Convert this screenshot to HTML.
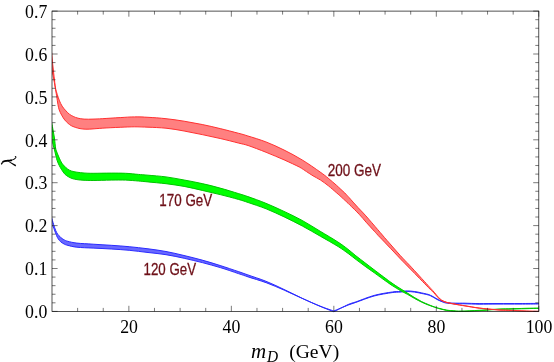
<!DOCTYPE html>
<html><head><meta charset="utf-8"><title>plot</title>
<style>html,body{margin:0;padding:0;background:#fff;}body{width:554px;height:362px;overflow:hidden;font-family:"Liberation Sans",sans-serif;}</style>
</head><body>
<svg width="554" height="362" viewBox="0 0 554 362" style="display:block;will-change:transform">
<rect width="554" height="362" fill="#fff"/>
<defs><clipPath id="c"><rect x="52.0" y="9.1" width="486.8" height="303.3"/></clipPath></defs>
<g clip-path="url(#c)" stroke-linejoin="round">
<path d="M51.6 217.7C51.9 218.8 52.9 222.0 53.5 224.2C54.2 226.3 55.0 228.8 55.7 230.5C56.4 232.1 56.9 233.0 57.7 234.2C58.5 235.3 59.4 236.3 60.5 237.2C61.5 238.2 62.7 239.0 63.9 239.7C65.1 240.3 65.7 240.7 67.8 241.3C70.0 241.9 72.7 242.6 76.9 243.1C81.1 243.6 87.4 243.8 93.1 244.2C98.8 244.6 105.2 244.9 111.2 245.3C117.2 245.7 123.0 246.1 129.2 246.7C135.3 247.3 141.8 248.0 148.0 248.8C154.1 249.6 160.0 250.4 166.0 251.5C172.0 252.6 178.0 254.1 184.0 255.5C190.1 257.0 196.1 258.4 202.1 260.1C208.1 261.7 214.1 263.6 220.1 265.5C226.1 267.4 233.6 270.0 238.2 271.5C242.8 273.1 243.3 273.3 247.9 274.9C252.5 276.6 259.8 278.8 265.8 281.2C271.8 283.6 277.9 286.5 283.9 289.4C289.9 292.2 296.0 295.3 302.0 298.2C308.0 301.0 314.7 304.0 320.0 306.3C325.3 308.5 331.5 310.9 333.8 311.8C336.2 310.6 344.5 306.2 348.2 304.5C351.9 302.9 351.8 303.3 356.2 301.8C360.5 300.3 368.2 297.0 374.2 295.4C380.2 293.8 388.0 292.6 392.3 292.0C396.6 291.3 397.5 291.7 400.0 291.5C402.5 291.3 404.8 290.9 407.2 290.9C409.6 290.9 411.9 291.2 414.3 291.5C416.7 291.8 419.3 292.4 421.6 292.9C423.9 293.4 426.4 293.9 427.9 294.3C429.4 294.7 429.7 294.9 430.6 295.4C431.5 295.8 432.3 296.2 433.3 296.7C434.2 297.3 435.1 297.9 436.1 298.4C437.0 299.0 437.9 299.4 438.8 299.9C439.7 300.3 440.7 300.7 441.6 301.1C442.6 301.4 443.5 301.8 444.5 302.1C445.4 302.3 446.3 302.4 447.2 302.6C448.2 302.7 449.1 302.8 450.1 302.9C451.0 303.0 451.6 303.0 452.9 303.1C454.2 303.1 456.0 303.2 458.0 303.2C460.0 303.2 461.5 303.1 465.0 303.2C468.5 303.3 473.7 303.5 479.2 303.6C484.7 303.6 491.2 303.5 498.0 303.5C504.8 303.5 513.2 303.5 520.0 303.5C526.8 303.5 535.5 303.4 538.8 303.4C542.1 303.4 539.8 303.4 540.0 303.4L540.0 304.0C539.8 304.0 542.1 304.0 538.8 304.0C535.5 304.0 526.8 304.1 520.0 304.1C513.2 304.1 504.8 304.1 498.0 304.1C491.2 304.1 484.7 304.2 479.2 304.2C473.7 304.1 468.5 303.9 465.0 303.8C461.5 303.7 460.0 303.8 458.0 303.8C456.0 303.8 454.2 303.7 452.9 303.7C451.6 303.6 451.1 303.6 450.1 303.5C449.2 303.4 448.3 303.3 447.4 303.2C446.5 303.1 445.6 303.0 444.7 302.7C443.8 302.5 442.9 302.1 442.0 301.7C441.1 301.4 440.1 301.0 439.2 300.5C438.3 300.1 437.5 299.7 436.5 299.2C435.6 298.7 434.7 298.0 433.7 297.5C432.8 297.0 431.9 296.5 431.0 296.0C430.1 295.6 429.7 295.4 428.1 294.9C426.6 294.5 424.1 294.0 421.8 293.5C419.5 293.0 416.9 292.4 414.5 292.1C412.0 291.8 409.6 291.5 407.2 291.5C404.8 291.5 402.5 291.9 400.0 292.1C397.5 292.3 396.5 292.0 392.1 292.6C387.8 293.3 380.0 294.4 374.0 296.0C367.9 297.7 360.2 300.9 355.8 302.4C351.5 304.0 351.5 303.8 347.8 305.2C344.1 306.7 336.1 310.0 333.8 311.0C331.5 310.2 325.6 308.3 320.4 306.2C315.2 304.2 308.4 301.2 302.4 298.5C296.4 295.9 290.3 292.9 284.3 290.2C278.3 287.6 272.2 284.9 266.2 282.7C260.1 280.5 252.7 278.4 248.1 276.9C243.5 275.3 243.0 275.1 238.4 273.6C233.8 272.0 226.3 269.4 220.3 267.6C214.3 265.8 208.3 264.2 202.3 262.6C196.2 261.1 190.2 259.6 184.2 258.3C178.1 256.9 172.1 255.7 166.0 254.7C160.0 253.7 154.2 253.2 148.0 252.5C141.9 251.8 135.4 250.9 129.2 250.3C123.1 249.7 117.2 249.4 111.2 249.0C105.2 248.6 98.8 248.4 93.1 248.1C87.4 247.8 81.1 247.7 76.9 247.2C72.7 246.8 70.1 245.9 67.9 245.4C65.8 244.9 65.3 244.6 64.1 244.0C62.9 243.4 61.7 242.7 60.7 241.8C59.8 241.0 58.9 239.9 58.2 238.8C57.5 237.8 57.1 237.0 56.5 235.5C55.8 234.0 55.1 231.6 54.4 229.8C53.7 228.1 52.7 225.6 52.3 224.8Z" fill="#6868ff" stroke="none"/><path d="M51.6 217.7C51.9 218.8 52.9 222.0 53.5 224.2C54.2 226.3 55.0 228.8 55.7 230.5C56.4 232.1 56.9 233.0 57.7 234.2C58.5 235.3 59.4 236.3 60.5 237.2C61.5 238.2 62.7 239.0 63.9 239.7C65.1 240.3 65.7 240.7 67.8 241.3C70.0 241.9 72.7 242.6 76.9 243.1C81.1 243.6 87.4 243.8 93.1 244.2C98.8 244.6 105.2 244.9 111.2 245.3C117.2 245.7 123.0 246.1 129.2 246.7C135.3 247.3 141.8 248.0 148.0 248.8C154.1 249.6 160.0 250.4 166.0 251.5C172.0 252.6 178.0 254.1 184.0 255.5C190.1 257.0 196.1 258.4 202.1 260.1C208.1 261.7 214.1 263.6 220.1 265.5C226.1 267.4 233.6 270.0 238.2 271.5C242.8 273.1 243.3 273.3 247.9 274.9C252.5 276.6 259.8 278.8 265.8 281.2C271.8 283.6 277.9 286.5 283.9 289.4C289.9 292.2 296.0 295.3 302.0 298.2C308.0 301.0 314.7 304.0 320.0 306.3C325.3 308.5 331.5 310.9 333.8 311.8C336.2 310.6 344.5 306.2 348.2 304.5C351.9 302.9 351.8 303.3 356.2 301.8C360.5 300.3 368.2 297.0 374.2 295.4C380.2 293.8 388.0 292.6 392.3 292.0C396.6 291.3 397.5 291.7 400.0 291.5C402.5 291.3 404.8 290.9 407.2 290.9C409.6 290.9 411.9 291.2 414.3 291.5C416.7 291.8 419.3 292.4 421.6 292.9C423.9 293.4 426.4 293.9 427.9 294.3C429.4 294.7 429.7 294.9 430.6 295.4C431.5 295.8 432.3 296.2 433.3 296.7C434.2 297.3 435.1 297.9 436.1 298.4C437.0 299.0 437.9 299.4 438.8 299.9C439.7 300.3 440.7 300.7 441.6 301.1C442.6 301.4 443.5 301.8 444.5 302.1C445.4 302.3 446.3 302.4 447.2 302.6C448.2 302.7 449.1 302.8 450.1 302.9C451.0 303.0 451.6 303.0 452.9 303.1C454.2 303.1 456.0 303.2 458.0 303.2C460.0 303.2 461.5 303.1 465.0 303.2C468.5 303.3 473.7 303.5 479.2 303.6C484.7 303.6 491.2 303.5 498.0 303.5C504.8 303.5 513.2 303.5 520.0 303.5C526.8 303.5 535.5 303.4 538.8 303.4C542.1 303.4 539.8 303.4 540.0 303.4" fill="none" stroke="#2a2aff" stroke-width="1.0"/><path d="M52.3 224.8C52.7 225.6 53.7 228.1 54.4 229.8C55.1 231.6 55.8 234.0 56.5 235.5C57.1 237.0 57.5 237.8 58.2 238.8C58.9 239.9 59.8 241.0 60.7 241.8C61.7 242.7 62.9 243.4 64.1 244.0C65.3 244.6 65.8 244.9 67.9 245.4C70.1 245.9 72.7 246.8 76.9 247.2C81.1 247.7 87.4 247.8 93.1 248.1C98.8 248.4 105.2 248.6 111.2 249.0C117.2 249.4 123.1 249.7 129.2 250.3C135.4 250.9 141.9 251.8 148.0 252.5C154.2 253.2 160.0 253.7 166.0 254.7C172.1 255.7 178.1 256.9 184.2 258.3C190.2 259.6 196.2 261.1 202.3 262.6C208.3 264.2 214.3 265.8 220.3 267.6C226.3 269.4 233.8 272.0 238.4 273.6C243.0 275.1 243.5 275.3 248.1 276.9C252.7 278.4 260.1 280.5 266.2 282.7C272.2 284.9 278.3 287.6 284.3 290.2C290.3 292.9 296.4 295.9 302.4 298.5C308.4 301.2 315.2 304.2 320.4 306.2C325.6 308.3 331.5 310.2 333.8 311.0C336.1 310.0 344.1 306.7 347.8 305.2C351.5 303.8 351.5 304.0 355.8 302.4C360.2 300.9 367.9 297.7 374.0 296.0C380.0 294.4 387.8 293.3 392.1 292.6C396.5 292.0 397.5 292.3 400.0 292.1C402.5 291.9 404.8 291.5 407.2 291.5C409.6 291.5 412.0 291.8 414.5 292.1C416.9 292.4 419.5 293.0 421.8 293.5C424.1 294.0 426.6 294.5 428.1 294.9C429.7 295.4 430.1 295.6 431.0 296.0C431.9 296.5 432.8 297.0 433.7 297.5C434.7 298.0 435.6 298.7 436.5 299.2C437.5 299.7 438.3 300.1 439.2 300.5C440.1 301.0 441.1 301.4 442.0 301.7C442.9 302.1 443.8 302.5 444.7 302.7C445.6 303.0 446.5 303.1 447.4 303.2C448.3 303.3 449.2 303.4 450.1 303.5C451.1 303.6 451.6 303.6 452.9 303.7C454.2 303.7 456.0 303.8 458.0 303.8C460.0 303.8 461.5 303.7 465.0 303.8C468.5 303.9 473.7 304.1 479.2 304.2C484.7 304.2 491.2 304.1 498.0 304.1C504.8 304.1 513.2 304.1 520.0 304.1C526.8 304.1 535.5 304.0 538.8 304.0C542.1 304.0 539.8 304.0 540.0 304.0" fill="none" stroke="#2a2aff" stroke-width="1.0"/>
<path d="M51.8 123.1C52.0 124.5 52.8 128.4 53.2 131.0C53.7 133.7 54.2 136.2 54.6 139.1C55.0 141.9 55.2 145.8 55.6 148.1C56.1 150.4 56.6 151.4 57.2 153.1C57.9 154.8 58.6 156.4 59.3 158.1C60.1 159.8 61.0 161.8 61.8 163.1C62.7 164.4 63.4 165.1 64.4 166.1C65.4 167.2 66.6 168.4 67.8 169.2C69.0 170.0 69.9 170.5 71.4 171.0C73.0 171.5 74.8 171.9 76.9 172.2C79.0 172.5 81.4 172.8 84.1 173.0C86.8 173.2 88.6 173.3 93.1 173.3C97.6 173.3 105.8 173.1 111.2 173.1C116.6 173.1 121.1 173.1 125.6 173.3C130.1 173.5 134.6 174.1 138.3 174.4C142.0 174.7 143.4 174.8 148.0 175.2C152.6 175.6 160.0 176.1 166.0 176.9C172.0 177.7 178.0 178.9 184.1 180.0C190.1 181.1 196.1 182.2 202.2 183.6C208.2 184.9 214.1 186.4 220.1 188.1C226.2 189.7 233.6 192.1 238.2 193.5C242.9 194.9 243.3 195.0 247.9 196.6C252.5 198.2 259.9 200.8 265.9 203.3C271.9 205.8 278.0 208.5 284.0 211.4C290.0 214.2 296.1 217.1 302.1 220.4C308.1 223.7 314.1 227.6 320.1 231.2C326.1 234.8 333.3 239.0 337.9 242.0C342.5 245.0 344.9 246.9 347.9 249.2C350.9 251.5 353.0 253.5 355.9 255.8C358.7 258.0 361.9 260.4 364.9 262.7C367.9 265.0 371.4 267.7 373.9 269.6C376.4 271.5 377.6 272.4 379.8 274.1C382.0 275.8 385.2 278.1 387.2 279.6C389.2 281.1 389.9 281.7 392.0 283.1C394.1 284.6 397.3 286.7 399.8 288.3C402.3 289.9 404.6 291.3 407.0 292.8C409.3 294.3 411.7 295.9 414.1 297.3C416.6 298.8 419.0 300.2 421.5 301.5C423.9 302.7 426.3 303.7 428.7 304.7C431.1 305.7 434.1 306.8 435.9 307.4C437.8 308.1 438.1 308.1 439.9 308.5C441.7 309.0 444.3 309.7 446.6 310.1C449.0 310.5 451.4 310.7 453.9 310.8C456.3 311.0 457.0 311.2 461.2 311.1C465.4 311.1 473.1 310.7 479.2 310.3C485.4 310.0 493.2 309.3 498.0 309.1C502.9 308.8 503.5 309.0 508.2 308.8C512.9 308.7 520.9 308.5 526.0 308.3C531.1 308.2 536.5 308.1 538.8 308.1C541.1 308.0 539.8 308.1 540.0 308.1L540.0 308.4C539.8 308.4 541.1 308.3 538.8 308.4C536.5 308.4 531.1 308.5 526.0 308.7C520.9 308.8 512.9 309.0 508.2 309.2C503.5 309.3 502.8 309.1 498.0 309.4C493.1 309.6 485.3 310.3 479.2 310.7C473.0 311.0 465.4 311.4 461.2 311.4C457.0 311.5 456.3 311.3 453.9 311.2C451.5 311.0 449.1 310.8 446.8 310.4C444.5 310.1 441.9 309.3 440.1 308.9C438.4 308.4 438.1 308.4 436.3 307.8C434.4 307.2 431.5 306.2 429.1 305.3C426.7 304.4 424.3 303.5 421.9 302.3C419.5 301.2 417.1 299.8 414.6 298.5C412.2 297.1 409.8 295.7 407.4 294.3C405.0 293.0 402.7 291.9 400.2 290.5C397.7 289.0 394.5 287.0 392.4 285.7C390.3 284.3 389.6 283.8 387.6 282.4C385.5 281.0 382.4 278.7 380.2 277.1C377.9 275.5 376.8 274.6 374.3 272.8C371.7 271.0 368.1 268.5 365.1 266.3C362.1 264.1 359.0 261.8 356.1 259.6C353.3 257.5 351.1 255.6 348.1 253.4C345.1 251.3 342.7 249.4 338.1 246.5C333.5 243.7 326.3 239.6 320.3 236.2C314.3 232.8 308.3 229.2 302.3 226.0C296.3 222.8 290.2 219.8 284.2 216.9C278.1 214.1 272.1 211.2 266.1 208.8C260.1 206.4 252.7 204.1 248.1 202.5C243.4 200.9 243.0 200.7 238.4 199.4C233.7 198.1 226.3 196.1 220.2 194.6C214.2 193.1 208.3 191.8 202.2 190.4C196.2 189.0 190.2 187.5 184.1 186.4C178.1 185.3 172.0 184.5 166.0 183.7C160.0 183.0 152.6 182.4 148.0 181.9C143.4 181.5 142.1 181.3 138.3 181.0C134.6 180.7 130.1 180.3 125.6 180.1C121.1 180.0 116.6 180.0 111.2 180.1C105.8 180.2 97.6 180.5 93.1 180.5C88.6 180.5 86.7 180.4 84.0 180.3C81.3 180.2 78.9 179.9 76.9 179.6C74.9 179.3 73.6 179.0 72.1 178.5C70.6 178.0 69.2 177.3 68.0 176.5C66.8 175.8 65.7 175.0 64.6 173.9C63.6 172.7 62.6 171.2 61.7 169.8C60.8 168.4 59.9 166.9 59.2 165.4C58.4 163.9 57.8 162.3 57.2 160.7C56.6 159.1 56.3 157.7 55.9 155.9C55.4 154.1 54.9 151.6 54.5 150.0C54.1 148.3 53.8 147.6 53.4 146.0C53.0 144.3 52.4 141.2 52.2 140.3Z" fill="#00ff00" stroke="none"/><path d="M51.8 123.1C52.0 124.5 52.8 128.4 53.2 131.0C53.7 133.7 54.2 136.2 54.6 139.1C55.0 141.9 55.2 145.8 55.6 148.1C56.1 150.4 56.6 151.4 57.2 153.1C57.9 154.8 58.6 156.4 59.3 158.1C60.1 159.8 61.0 161.8 61.8 163.1C62.7 164.4 63.4 165.1 64.4 166.1C65.4 167.2 66.6 168.4 67.8 169.2C69.0 170.0 69.9 170.5 71.4 171.0C73.0 171.5 74.8 171.9 76.9 172.2C79.0 172.5 81.4 172.8 84.1 173.0C86.8 173.2 88.6 173.3 93.1 173.3C97.6 173.3 105.8 173.1 111.2 173.1C116.6 173.1 121.1 173.1 125.6 173.3C130.1 173.5 134.6 174.1 138.3 174.4C142.0 174.7 143.4 174.8 148.0 175.2C152.6 175.6 160.0 176.1 166.0 176.9C172.0 177.7 178.0 178.9 184.1 180.0C190.1 181.1 196.1 182.2 202.2 183.6C208.2 184.9 214.1 186.4 220.1 188.1C226.2 189.7 233.6 192.1 238.2 193.5C242.9 194.9 243.3 195.0 247.9 196.6C252.5 198.2 259.9 200.8 265.9 203.3C271.9 205.8 278.0 208.5 284.0 211.4C290.0 214.2 296.1 217.1 302.1 220.4C308.1 223.7 314.1 227.6 320.1 231.2C326.1 234.8 333.3 239.0 337.9 242.0C342.5 245.0 344.9 246.9 347.9 249.2C350.9 251.5 353.0 253.5 355.9 255.8C358.7 258.0 361.9 260.4 364.9 262.7C367.9 265.0 371.4 267.7 373.9 269.6C376.4 271.5 377.6 272.4 379.8 274.1C382.0 275.8 385.2 278.1 387.2 279.6C389.2 281.1 389.9 281.7 392.0 283.1C394.1 284.6 397.3 286.7 399.8 288.3C402.3 289.9 404.6 291.3 407.0 292.8C409.3 294.3 411.7 295.9 414.1 297.3C416.6 298.8 419.0 300.2 421.5 301.5C423.9 302.7 426.3 303.7 428.7 304.7C431.1 305.7 434.1 306.8 435.9 307.4C437.8 308.1 438.1 308.1 439.9 308.5C441.7 309.0 444.3 309.7 446.6 310.1C449.0 310.5 451.4 310.7 453.9 310.8C456.3 311.0 457.0 311.2 461.2 311.1C465.4 311.1 473.1 310.7 479.2 310.3C485.4 310.0 493.2 309.3 498.0 309.1C502.9 308.8 503.5 309.0 508.2 308.8C512.9 308.7 520.9 308.5 526.0 308.3C531.1 308.2 536.5 308.1 538.8 308.1C541.1 308.0 539.8 308.1 540.0 308.1" fill="none" stroke="#00c400" stroke-width="1.0"/><path d="M52.2 140.3C52.4 141.2 53.0 144.3 53.4 146.0C53.8 147.6 54.1 148.3 54.5 150.0C54.9 151.6 55.4 154.1 55.9 155.9C56.3 157.7 56.6 159.1 57.2 160.7C57.8 162.3 58.4 163.9 59.2 165.4C59.9 166.9 60.8 168.4 61.7 169.8C62.6 171.2 63.6 172.7 64.6 173.9C65.7 175.0 66.8 175.8 68.0 176.5C69.2 177.3 70.6 178.0 72.1 178.5C73.6 179.0 74.9 179.3 76.9 179.6C78.9 179.9 81.3 180.2 84.0 180.3C86.7 180.4 88.6 180.5 93.1 180.5C97.6 180.5 105.8 180.2 111.2 180.1C116.6 180.0 121.1 180.0 125.6 180.1C130.1 180.3 134.6 180.7 138.3 181.0C142.1 181.3 143.4 181.5 148.0 181.9C152.6 182.4 160.0 183.0 166.0 183.7C172.0 184.5 178.1 185.3 184.1 186.4C190.2 187.5 196.2 189.0 202.2 190.4C208.3 191.8 214.2 193.1 220.2 194.6C226.3 196.1 233.7 198.1 238.4 199.4C243.0 200.7 243.4 200.9 248.1 202.5C252.7 204.1 260.1 206.4 266.1 208.8C272.1 211.2 278.1 214.1 284.2 216.9C290.2 219.8 296.3 222.8 302.3 226.0C308.3 229.2 314.3 232.8 320.3 236.2C326.3 239.6 333.5 243.7 338.1 246.5C342.7 249.4 345.1 251.3 348.1 253.4C351.1 255.6 353.3 257.5 356.1 259.6C359.0 261.8 362.1 264.1 365.1 266.3C368.1 268.5 371.7 271.0 374.3 272.8C376.8 274.6 377.9 275.5 380.2 277.1C382.4 278.7 385.5 281.0 387.6 282.4C389.6 283.8 390.3 284.3 392.4 285.7C394.5 287.0 397.7 289.0 400.2 290.5C402.7 291.9 405.0 293.0 407.4 294.3C409.8 295.7 412.2 297.1 414.6 298.5C417.1 299.8 419.5 301.2 421.9 302.3C424.3 303.5 426.7 304.4 429.1 305.3C431.5 306.2 434.4 307.2 436.3 307.8C438.1 308.4 438.4 308.4 440.1 308.9C441.9 309.3 444.5 310.1 446.8 310.4C449.1 310.8 451.5 311.0 453.9 311.2C456.3 311.3 457.0 311.5 461.2 311.4C465.4 311.4 473.0 311.0 479.2 310.7C485.3 310.3 493.1 309.6 498.0 309.4C502.8 309.1 503.5 309.3 508.2 309.2C512.9 309.0 520.9 308.8 526.0 308.7C531.1 308.5 536.5 308.4 538.8 308.4C541.1 308.3 539.8 308.4 540.0 308.4" fill="none" stroke="#00c400" stroke-width="1.0"/>
<path d="M50.6 45.1C50.8 46.3 51.2 49.5 51.6 52.6C51.9 55.8 52.3 60.2 52.7 64.1C53.1 68.0 53.5 72.1 54.0 76.1C54.5 80.1 55.0 85.0 55.5 88.1C56.1 91.2 56.7 92.4 57.3 94.6C58.0 96.7 58.7 99.0 59.5 100.9C60.3 102.8 61.1 104.4 62.1 106.1C63.2 107.8 64.7 109.6 66.0 110.9C67.2 112.3 68.2 113.3 69.4 114.2C70.6 115.1 71.8 115.7 73.2 116.4C74.6 117.1 76.1 117.7 78.0 118.2C79.8 118.6 81.6 118.9 84.1 119.1C86.6 119.3 90.0 119.2 93.0 119.1C96.0 119.0 97.7 118.9 102.2 118.7C106.7 118.4 114.8 117.9 120.2 117.6C125.6 117.3 130.0 116.9 134.6 116.9C139.2 116.8 142.8 117.0 148.0 117.3C153.2 117.6 160.0 118.0 166.0 118.7C172.0 119.3 178.0 120.2 184.1 121.2C190.1 122.2 196.1 123.3 202.2 124.5C208.2 125.7 214.1 127.1 220.2 128.6C226.2 130.0 233.6 132.0 238.2 133.2C242.9 134.4 243.3 134.5 247.9 136.0C252.6 137.4 259.9 139.6 265.9 141.9C271.9 144.2 278.0 147.0 284.0 150.0C290.0 153.0 296.1 156.2 302.1 159.9C308.1 163.5 315.7 168.9 320.1 172.0C324.4 175.0 325.4 175.9 328.2 178.2C330.9 180.4 333.7 182.9 336.5 185.3C339.2 187.8 342.6 191.0 344.8 193.0C346.9 195.1 347.3 195.7 349.2 197.7C351.0 199.7 353.0 202.1 355.8 205.1C358.5 208.2 362.2 211.8 365.9 215.9C369.5 220.0 374.3 225.6 377.8 229.7C381.4 233.8 383.3 236.2 387.0 240.4C390.8 244.7 396.5 251.3 400.3 255.5C404.1 259.7 405.3 260.8 410.0 265.7C414.6 270.7 424.1 281.1 428.0 285.4C431.8 289.6 431.8 289.5 433.1 291.0C434.5 292.5 435.0 293.2 435.9 294.3C436.8 295.4 437.7 296.6 438.6 297.5C439.6 298.5 440.6 299.3 441.5 300.0C442.5 300.6 443.5 301.0 444.4 301.5C445.3 301.9 446.2 302.2 447.2 302.5C448.1 302.8 449.1 302.9 450.0 303.1C450.9 303.3 451.5 303.4 452.8 303.6C454.1 303.9 455.9 304.2 457.9 304.6C459.9 304.9 461.4 305.2 464.9 305.7C468.5 306.3 473.6 307.3 479.1 308.0C484.6 308.7 493.1 309.4 498.0 309.8C502.8 310.2 503.5 310.0 508.2 310.2C512.9 310.4 521.1 310.8 526.2 311.0C531.3 311.2 536.5 311.2 538.8 311.3C541.1 311.3 539.8 311.3 540.0 311.3L540.0 311.5C539.8 311.5 541.1 311.6 538.8 311.5C536.5 311.5 531.3 311.4 526.2 311.2C521.1 311.0 512.9 310.6 508.2 310.4C503.5 310.2 502.9 310.4 498.0 310.0C493.2 309.6 484.8 308.9 479.3 308.2C473.8 307.5 468.6 306.5 465.1 306.0C461.5 305.4 460.1 305.2 458.1 304.8C456.1 304.5 454.3 304.1 453.0 303.9C451.7 303.6 451.1 303.5 450.2 303.3C449.3 303.1 448.3 302.9 447.4 302.7C446.5 302.5 445.7 302.2 444.8 301.9C443.9 301.6 443.0 301.3 442.0 300.8C441.1 300.3 440.2 299.7 439.3 298.9C438.4 298.1 437.6 297.1 436.7 296.1C435.8 295.1 435.2 294.3 433.9 292.9C432.5 291.5 432.5 291.7 428.6 287.7C424.7 283.8 415.1 273.8 410.4 269.1C405.8 264.3 404.6 263.2 400.7 259.2C396.9 255.2 391.1 248.9 387.3 245.0C383.6 241.0 380.5 237.9 378.1 235.4C375.8 232.8 375.1 232.1 373.1 229.9C371.1 227.7 368.5 224.8 366.1 222.2C363.8 219.6 362.0 217.2 359.2 214.3C356.5 211.4 352.0 207.1 349.6 204.8C347.3 202.5 346.5 201.7 345.1 200.5C343.8 199.2 343.0 198.5 341.6 197.3C340.2 196.0 338.9 194.8 336.7 192.9C334.5 191.0 331.1 188.0 328.4 185.8C325.7 183.7 323.2 181.8 320.6 180.1C318.0 178.5 315.4 177.2 313.0 175.8C310.7 174.4 308.8 173.1 306.5 171.6C304.2 170.2 303.0 169.0 299.3 167.0C295.6 165.1 289.7 162.4 284.2 159.9C278.6 157.5 272.1 154.7 266.1 152.3C260.1 149.9 252.7 147.1 248.1 145.5C243.4 144.0 243.0 144.2 238.3 143.0C233.7 141.8 226.3 139.9 220.2 138.5C214.2 137.1 208.3 135.9 202.2 134.6C196.2 133.4 190.2 132.1 184.1 131.0C178.1 129.9 172.0 128.8 166.0 128.2C160.0 127.6 153.2 127.4 148.0 127.2C142.8 127.0 139.2 126.8 134.6 126.8C130.0 126.8 125.6 127.1 120.2 127.3C114.8 127.5 106.7 127.9 102.2 128.2C97.7 128.5 95.7 128.7 93.0 128.9C90.3 129.1 88.1 129.2 85.9 129.2C83.7 129.2 81.8 128.9 80.0 128.6C78.2 128.3 76.7 127.8 75.2 127.3C73.7 126.8 72.3 126.3 71.1 125.6C69.9 124.9 69.1 124.2 68.0 123.3C67.0 122.3 65.7 121.2 64.7 119.9C63.6 118.5 62.6 116.9 61.7 115.2C60.8 113.5 59.8 111.7 59.2 109.9C58.6 108.1 58.3 106.5 57.9 104.3C57.5 102.1 57.2 99.3 56.8 96.9C56.4 94.5 56.1 92.8 55.6 89.9C55.1 87.1 54.5 83.0 53.9 79.9C53.4 76.9 52.7 74.4 52.3 71.6C51.9 68.7 51.6 64.4 51.4 62.9Z" fill="#ff8080" stroke="none"/><path d="M50.6 45.1C50.8 46.3 51.2 49.5 51.6 52.6C51.9 55.8 52.3 60.2 52.7 64.1C53.1 68.0 53.5 72.1 54.0 76.1C54.5 80.1 55.0 85.0 55.5 88.1C56.1 91.2 56.7 92.4 57.3 94.6C58.0 96.7 58.7 99.0 59.5 100.9C60.3 102.8 61.1 104.4 62.1 106.1C63.2 107.8 64.7 109.6 66.0 110.9C67.2 112.3 68.2 113.3 69.4 114.2C70.6 115.1 71.8 115.7 73.2 116.4C74.6 117.1 76.1 117.7 78.0 118.2C79.8 118.6 81.6 118.9 84.1 119.1C86.6 119.3 90.0 119.2 93.0 119.1C96.0 119.0 97.7 118.9 102.2 118.7C106.7 118.4 114.8 117.9 120.2 117.6C125.6 117.3 130.0 116.9 134.6 116.9C139.2 116.8 142.8 117.0 148.0 117.3C153.2 117.6 160.0 118.0 166.0 118.7C172.0 119.3 178.0 120.2 184.1 121.2C190.1 122.2 196.1 123.3 202.2 124.5C208.2 125.7 214.1 127.1 220.2 128.6C226.2 130.0 233.6 132.0 238.2 133.2C242.9 134.4 243.3 134.5 247.9 136.0C252.6 137.4 259.9 139.6 265.9 141.9C271.9 144.2 278.0 147.0 284.0 150.0C290.0 153.0 296.1 156.2 302.1 159.9C308.1 163.5 315.7 168.9 320.1 172.0C324.4 175.0 325.4 175.9 328.2 178.2C330.9 180.4 333.7 182.9 336.5 185.3C339.2 187.8 342.6 191.0 344.8 193.0C346.9 195.1 347.3 195.7 349.2 197.7C351.0 199.7 353.0 202.1 355.8 205.1C358.5 208.2 362.2 211.8 365.9 215.9C369.5 220.0 374.3 225.6 377.8 229.7C381.4 233.8 383.3 236.2 387.0 240.4C390.8 244.7 396.5 251.3 400.3 255.5C404.1 259.7 405.3 260.8 410.0 265.7C414.6 270.7 424.1 281.1 428.0 285.4C431.8 289.6 431.8 289.5 433.1 291.0C434.5 292.5 435.0 293.2 435.9 294.3C436.8 295.4 437.7 296.6 438.6 297.5C439.6 298.5 440.6 299.3 441.5 300.0C442.5 300.6 443.5 301.0 444.4 301.5C445.3 301.9 446.2 302.2 447.2 302.5C448.1 302.8 449.1 302.9 450.0 303.1C450.9 303.3 451.5 303.4 452.8 303.6C454.1 303.9 455.9 304.2 457.9 304.6C459.9 304.9 461.4 305.2 464.9 305.7C468.5 306.3 473.6 307.3 479.1 308.0C484.6 308.7 493.1 309.4 498.0 309.8C502.8 310.2 503.5 310.0 508.2 310.2C512.9 310.4 521.1 310.8 526.2 311.0C531.3 311.2 536.5 311.2 538.8 311.3C541.1 311.3 539.8 311.3 540.0 311.3" fill="none" stroke="#ff3030" stroke-width="1.0"/><path d="M51.4 62.9C51.6 64.4 51.9 68.7 52.3 71.6C52.7 74.4 53.4 76.9 53.9 79.9C54.5 83.0 55.1 87.1 55.6 89.9C56.1 92.8 56.4 94.5 56.8 96.9C57.2 99.3 57.5 102.1 57.9 104.3C58.3 106.5 58.6 108.1 59.2 109.9C59.8 111.7 60.8 113.5 61.7 115.2C62.6 116.9 63.6 118.5 64.7 119.9C65.7 121.2 67.0 122.3 68.0 123.3C69.1 124.2 69.9 124.9 71.1 125.6C72.3 126.3 73.7 126.8 75.2 127.3C76.7 127.8 78.2 128.3 80.0 128.6C81.8 128.9 83.7 129.2 85.9 129.2C88.1 129.2 90.3 129.1 93.0 128.9C95.7 128.7 97.7 128.5 102.2 128.2C106.7 127.9 114.8 127.5 120.2 127.3C125.6 127.1 130.0 126.8 134.6 126.8C139.2 126.8 142.8 127.0 148.0 127.2C153.2 127.4 160.0 127.6 166.0 128.2C172.0 128.8 178.1 129.9 184.1 131.0C190.2 132.1 196.2 133.4 202.2 134.6C208.3 135.9 214.2 137.1 220.2 138.5C226.3 139.9 233.7 141.8 238.3 143.0C243.0 144.2 243.4 144.0 248.1 145.5C252.7 147.1 260.1 149.9 266.1 152.3C272.1 154.7 278.6 157.5 284.2 159.9C289.7 162.4 295.6 165.1 299.3 167.0C303.0 169.0 304.2 170.2 306.5 171.6C308.8 173.1 310.7 174.4 313.0 175.8C315.4 177.2 318.0 178.5 320.6 180.1C323.2 181.8 325.7 183.7 328.4 185.8C331.1 188.0 334.5 191.0 336.7 192.9C338.9 194.8 340.2 196.0 341.6 197.3C343.0 198.5 343.8 199.2 345.1 200.5C346.5 201.7 347.3 202.5 349.6 204.8C352.0 207.1 356.5 211.4 359.2 214.3C362.0 217.2 363.8 219.6 366.1 222.2C368.5 224.8 371.1 227.7 373.1 229.9C375.1 232.1 375.8 232.8 378.1 235.4C380.5 237.9 383.6 241.0 387.3 245.0C391.1 248.9 396.9 255.2 400.7 259.2C404.6 263.2 405.8 264.3 410.4 269.1C415.1 273.8 424.7 283.8 428.6 287.7C432.5 291.7 432.5 291.5 433.9 292.9C435.2 294.3 435.8 295.1 436.7 296.1C437.6 297.1 438.4 298.1 439.3 298.9C440.2 299.7 441.1 300.3 442.0 300.8C443.0 301.3 443.9 301.6 444.8 301.9C445.7 302.2 446.5 302.5 447.4 302.7C448.3 302.9 449.3 303.1 450.2 303.3C451.1 303.5 451.7 303.6 453.0 303.9C454.3 304.1 456.1 304.5 458.1 304.8C460.1 305.2 461.5 305.4 465.1 306.0C468.6 306.5 473.8 307.5 479.3 308.2C484.8 308.9 493.2 309.6 498.0 310.0C502.9 310.4 503.5 310.2 508.2 310.4C512.9 310.6 521.1 311.0 526.2 311.2C531.3 311.4 536.5 311.5 538.8 311.5C541.1 311.6 539.8 311.5 540.0 311.5" fill="none" stroke="#ff3030" stroke-width="1.0"/>
</g>
<path d="M52.00 311.40h5.6M538.80 311.40h-5.6M52.00 302.82h3.5M538.80 302.82h-3.5M52.00 294.24h3.5M538.80 294.24h-3.5M52.00 285.66h3.5M538.80 285.66h-3.5M52.00 277.08h3.5M538.80 277.08h-3.5M52.00 268.50h5.6M538.80 268.50h-5.6M52.00 259.92h3.5M538.80 259.92h-3.5M52.00 251.34h3.5M538.80 251.34h-3.5M52.00 242.76h3.5M538.80 242.76h-3.5M52.00 234.18h3.5M538.80 234.18h-3.5M52.00 225.60h5.6M538.80 225.60h-5.6M52.00 217.02h3.5M538.80 217.02h-3.5M52.00 208.44h3.5M538.80 208.44h-3.5M52.00 199.86h3.5M538.80 199.86h-3.5M52.00 191.28h3.5M538.80 191.28h-3.5M52.00 182.70h5.6M538.80 182.70h-5.6M52.00 174.12h3.5M538.80 174.12h-3.5M52.00 165.54h3.5M538.80 165.54h-3.5M52.00 156.96h3.5M538.80 156.96h-3.5M52.00 148.38h3.5M538.80 148.38h-3.5M52.00 139.80h5.6M538.80 139.80h-5.6M52.00 131.22h3.5M538.80 131.22h-3.5M52.00 122.64h3.5M538.80 122.64h-3.5M52.00 114.06h3.5M538.80 114.06h-3.5M52.00 105.48h3.5M538.80 105.48h-3.5M52.00 96.90h5.6M538.80 96.90h-5.6M52.00 88.32h3.5M538.80 88.32h-3.5M52.00 79.74h3.5M538.80 79.74h-3.5M52.00 71.16h3.5M538.80 71.16h-3.5M52.00 62.58h3.5M538.80 62.58h-3.5M52.00 54.00h5.6M538.80 54.00h-5.6M52.00 45.42h3.5M538.80 45.42h-3.5M52.00 36.84h3.5M538.80 36.84h-3.5M52.00 28.26h3.5M538.80 28.26h-3.5M52.00 19.68h3.5M538.80 19.68h-3.5M52.00 11.10h5.6M538.80 11.10h-5.6M77.62 311.40v-3.5M77.62 11.10v3.5M103.24 311.40v-3.5M103.24 11.10v3.5M128.86 311.40v-5.6M128.86 11.10v5.6M154.48 311.40v-3.5M154.48 11.10v3.5M180.11 311.40v-3.5M180.11 11.10v3.5M205.73 311.40v-3.5M205.73 11.10v3.5M231.35 311.40v-5.6M231.35 11.10v5.6M256.97 311.40v-3.5M256.97 11.10v3.5M282.59 311.40v-3.5M282.59 11.10v3.5M308.21 311.40v-3.5M308.21 11.10v3.5M333.83 311.40v-5.6M333.83 11.10v5.6M359.45 311.40v-3.5M359.45 11.10v3.5M385.07 311.40v-3.5M385.07 11.10v3.5M410.69 311.40v-3.5M410.69 11.10v3.5M436.32 311.40v-5.6M436.32 11.10v5.6M461.94 311.40v-3.5M461.94 11.10v3.5M487.56 311.40v-3.5M487.56 11.10v3.5M513.18 311.40v-3.5M513.18 11.10v3.5M538.80 311.40v-5.6M538.80 11.10v5.6" stroke="#222" stroke-width="0.6" fill="none"/>
<rect x="52.00" y="11.10" width="486.80" height="300.30" fill="none" stroke="#111" stroke-width="0.72"/>
<g font-family="Liberation Serif, serif" font-size="18.5" fill="#000">
<text transform="translate(47.3,318.1) scale(0.96,1)" text-anchor="end">0.0</text>
<text transform="translate(47.3,275.2) scale(0.96,1)" text-anchor="end">0.1</text>
<text transform="translate(47.3,232.3) scale(0.96,1)" text-anchor="end">0.2</text>
<text transform="translate(47.3,189.4) scale(0.96,1)" text-anchor="end">0.3</text>
<text transform="translate(47.3,146.5) scale(0.96,1)" text-anchor="end">0.4</text>
<text transform="translate(47.3,103.6) scale(0.96,1)" text-anchor="end">0.5</text>
<text transform="translate(47.3,60.7) scale(0.96,1)" text-anchor="end">0.6</text>
<text transform="translate(47.3,17.5) scale(0.96,1)" text-anchor="end">0.7</text>
<text transform="translate(129.1,332.9) scale(0.96,1)" text-anchor="middle">20</text>
<text transform="translate(231.5,332.9) scale(0.96,1)" text-anchor="middle">40</text>
<text transform="translate(334.0,332.9) scale(0.96,1)" text-anchor="middle">60</text>
<text transform="translate(436.5,332.9) scale(0.96,1)" text-anchor="middle">80</text>
<text transform="translate(539.0,332.9) scale(0.96,1)" text-anchor="middle">100</text>
</g>
<g font-family="Liberation Serif, serif" fill="#000">
<text transform="translate(250.9,358) scale(1.0,1)" font-size="21" font-style="italic">m</text>
<text transform="translate(267.0,362.0) scale(0.88,1)" font-size="17.5" font-style="italic">D</text>
<text x="289.2" y="358.2" font-size="19.2" textLength="50" lengthAdjust="spacingAndGlyphs">(GeV)</text>
</g>
<g fill="none" stroke="#000" stroke-linecap="round" stroke-linejoin="round">
<path d="M1.6 164.0C1.7 162.6 2.7 161.6 4.3 161.2C6.6 160.55 8.6 160.7 10.6 160.35C13.1 159.9 15.3 159.0 15.9 157.4C16 156.9 15.7 156.5 15.3 156.45" stroke-width="1.05"/>
<path d="M3.2 161.6C5.6 160.65 8 160.85 11.2 160.3" stroke-width="1.75"/>
<circle cx="1.7" cy="163.7" r="0.35" stroke-width="0.5"/>
</g>
<path d="M8.4 161.0L16.1 164.9L15.5 166.6L8.1 161.6Z" fill="#000"/>
<g font-family="Liberation Sans, sans-serif" font-size="16" fill="#6e1018" stroke="#6e1018" stroke-width="0.3">
<text x="327.8" y="176.2" textLength="53.2" lengthAdjust="spacingAndGlyphs">200 GeV</text>
<text x="159.3" y="205.5" textLength="52.9" lengthAdjust="spacingAndGlyphs">170 GeV</text>
<text x="143.6" y="274.9" textLength="52.4" lengthAdjust="spacingAndGlyphs">120 GeV</text>
</g>
</svg>
</body></html>
